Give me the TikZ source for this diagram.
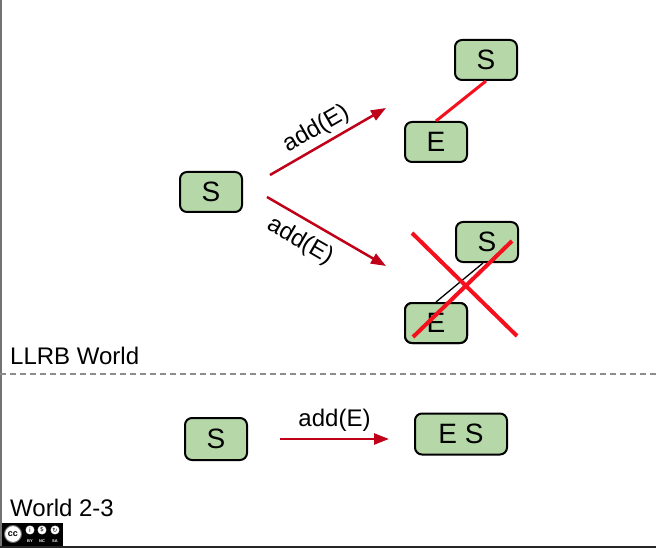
\documentclass[tikz,border=0pt]{standalone}
\usepackage{fontspec}
\setmainfont{Liberation Sans}
\newfontfamily\symfont{DejaVu Sans}
\usetikzlibrary{arrows.meta}
\definecolor{boxgreen}{HTML}{B6D7A8}
\definecolor{arrowred}{HTML}{C00018}
\definecolor{linered}{HTML}{F5101E}
\begin{document}
\begin{tikzpicture}[x=1pt,y=-1pt,
  key/.style={draw=black, line width=2pt, rounded corners=7pt, fill=boxgreen,
    minimum width=62pt, minimum height=40pt, inner sep=0pt,
    font=\fontsize{28}{30}\selectfont},
  lbl/.style={font=\fontsize{24}{26}\selectfont},
  op/.style={draw=arrowred, line width=2.5pt, -{Triangle[length=15pt,width=11pt]}},
  link/.style={draw=linered, line width=3pt},
  cross/.style={draw=linered, line width=4pt},
  badge/.style={circle, fill=white, draw=black, line width=0.8pt, inner sep=0pt, minimum size=10pt,
    font=\symfont\fontsize{6}{6}\selectfont},
  tiny/.style={text=white, inner sep=0pt, font=\bfseries\fontsize{4}{4}\selectfont}]
\useasboundingbox (0,0) rectangle (656,548);
\fill[white] (0,0) rectangle (656,548);
\fill[black!55] (0,0) rectangle (2,548);
\fill[black!85] (0,546) rectangle (656,548);

% separator
\draw[black!45, line width=1.5pt, dash pattern=on 6pt off 4pt] (0,374) -- (656,374);

% LLRB world
\node[key] (s0) at (211,192) {S};
\node[key] (s1) at (486,60) {S};
\node[key] (e1) at (436,142) {E};
\node[key] (s2) at (487,242) {S};
\node[key] (e2) at (436,323) {E};
\draw[link] (s1.south) -- (e1.north);
\draw[black, line width=1.3pt] ([xshift=-4pt]s2.south) -- (e2.north);
\node[key] at (e2) {E};

\coordinate (x1a) at (412,233);
\coordinate (x1b) at (517,336);
\coordinate (x2a) at (512,241);
\coordinate (x2b) at (413,337);
\draw[cross] (x1a) -- (x1b);
\draw[cross] (x2a) -- (x2b);

\coordinate (a1s) at (270,175);
\coordinate (a1e) at (386,108);
\coordinate (a2s) at (267,197);
\coordinate (a2e) at (386,266);
\draw[op] (a1s) -- node[lbl, sloped, above=1pt, pos=0.47] (l1) {add(E)} (a1e);
\draw[op] (a2s) -- node[lbl, sloped, below=6pt, pos=0.37] (l2) {add(E)} (a2e);

\node[lbl, anchor=base west, inner sep=0pt] (t1) at (10,364) {LLRB World};

% 2-3 world
\node[key, minimum height=42pt] (s3) at (216,439) {S};
\node[key, minimum width=92pt, minimum height=41pt] (es) at (461,434) {E S};
\coordinate (a3s) at (280,439);
\coordinate (a3e) at (389,439);
\draw[op] (a3s) -- node[lbl, above=3pt] (l3) {add(E)} (a3e);

\node[lbl, anchor=base west, inner sep=0pt] (t2) at (10,516) {World 2-3};

% licence badge
\fill[black] (2,523) rectangle (63,546);
\node[circle, fill=white, draw=black!60, line width=1pt, minimum size=17pt, inner sep=0pt,
  font=\bfseries\fontsize{9}{9}\selectfont] (cc) at (13,534) {cc};
\node[badge] (by) at (30,530) {i};
\node[badge] (nc) at (42,530) {\$};
\node[badge] (sa) at (55,530) {↻};
\node[tiny] (byt) at (30,541) {BY};
\node[tiny] (nct) at (42,541) {NC};
\node[tiny] (sat) at (55,541) {SA};
\end{tikzpicture}
\end{document}
